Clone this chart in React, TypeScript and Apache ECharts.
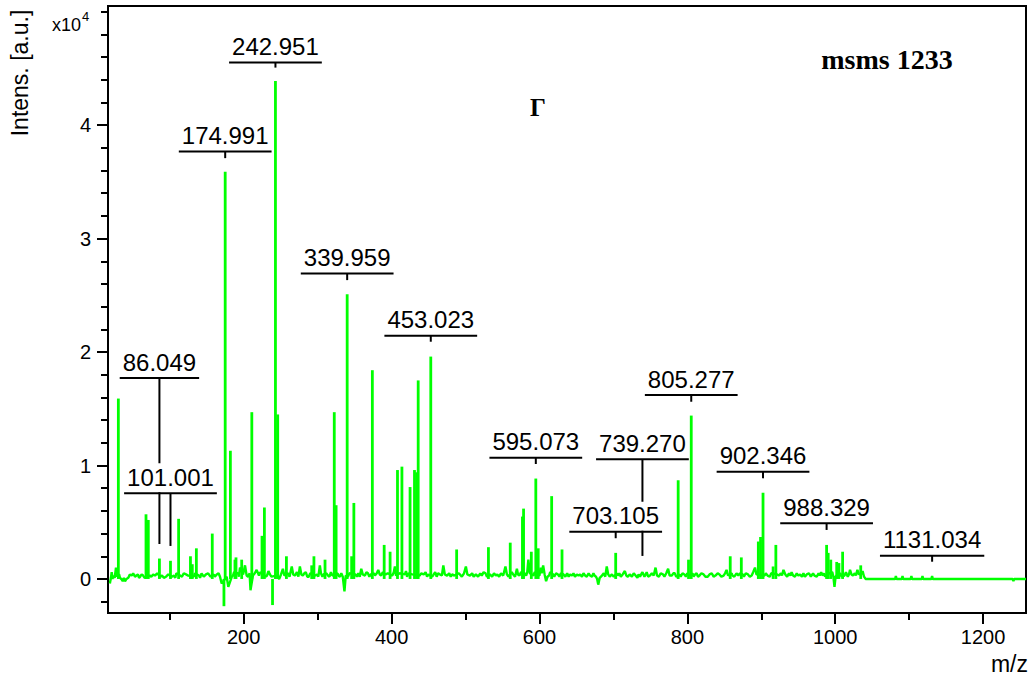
import React, { useEffect, useRef } from "react";
import * as echarts from "echarts";

// ---- axis ranges and ticks ----
const X_MIN = 16.5;
const X_MAX = 1258;
const Y_MIN = -0.3;
const Y_MAX = 5.05;
const xMajorTicks = [200, 400, 600, 800, 1000, 1200];
const xMinorTicks = [100, 300, 500, 700, 900, 1100];
const yMajorTicks = [0, 1, 2, 3, 4];
const yMinorTicks = [-0.2, 0.2, 0.4, 0.6, 0.8, 1.2, 1.4, 1.6, 1.8, 2.2, 2.4, 2.6, 2.8, 3.2, 3.4, 3.6, 3.8, 4.2, 4.4, 4.6, 4.8, 5.0];

// ---- peaks (m/z, intensity x10^4) ----
const peaks: [number, number][] = [
  [30.5, 1.59], [67.9, 0.57], [71.0, 0.52], [86.05, 0.18], [101.0, 0.16], [112.0, 0.53],
  [128.0, 0.2], [130.5, 0.13], [136.0, 0.27], [157.5, 0.4], [173.3, -0.24], [174.99, 3.59],
  [182.0, 1.13], [188.2, 0.17], [189.6, 0.19], [197.3, 0.17], [211.0, 1.47], [224.8, 0.38],
  [228.0, 0.63], [239.0, -0.23], [242.95, 4.39], [246.0, 1.45], [257.8, 0.2], [292.0, 0.12],
  [295.0, 0.2], [310.0, 0.17], [322.5, 1.47], [325.0, 0.65], [339.96, 2.51], [346.0, 0.2],
  [349.0, 0.67], [374.0, 1.84], [390.0, 0.3], [398.0, 0.24], [408.0, 0.96], [414.0, 0.99],
  [425.0, 0.81], [431.0, 0.96], [434.0, 0.94], [436.0, 1.75], [453.02, 1.96], [488.0, 0.26],
  [531.0, 0.28], [560.5, 0.32], [577.0, 0.55], [578.5, 0.62], [589.0, 0.24], [595.07, 0.885],
  [598.3, 0.27], [616.5, 0.73], [630.5, 0.26], [703.1, 0.23], [787.6, 0.87], [801.6, 0.17],
  [805.28, 1.44], [858.0, 0.2], [873.0, 0.19], [896.0, 0.33], [899.0, 0.37], [902.35, 0.76],
  [916.0, 0.11], [919.7, 0.3], [988.33, 0.3], [990.5, 0.23], [994.0, 0.17], [1002.0, 0.15],
  [1005.0, 0.14], [1010.0, 0.24], [1034.5, 0.12],
];

// ---- noisy baseline (m/z, intensity x10^4) ----
const baseline: [number, number][] = [
  [19, -0.04], [20.5, 0.01], [21.5, 0.06], [22.6, 0.0], [23.7, 0.03], [25.5, 0.01], [27.3, 0.1], [28.7, 0.02],
  [31.5, 0.04], [32.7, 0.01], [34.5, 0.0], [36.4, -0.02], [38, 0.01], [39.5, -0.02], [41.5, 0.0], [44, 0.01],
  [46, 0.04], [48.5, 0.03], [50.5, 0.05], [53, 0.02], [55, 0.03], [57, 0.04], [58.5, 0.01], [60, 0.02],
  [62, 0.04], [64, 0.03], [66, 0.01], [73, 0.03], [75, 0.02], [77.5, 0.04], [80, 0.03], [83, 0.05],
  [87.5, 0.02], [89.5, 0.03], [92, 0.01], [95, 0.02], [98, 0.04], [103, 0.02], [105.7, 0.03], [107.5, 0.01],
  [109, 0.05], [114, 0.03], [116.5, 0.02], [119, 0.05], [122, 0.04], [125, 0.03], [132.5, 0.02], [134, 0.05],
  [139.5, 0.03], [141, 0.01], [143, 0.05], [146, 0.02], [149, 0.04], [152, 0.05], [155, 0.02], [159.5, 0.04],
  [161, 0.02], [163.5, 0.04], [166, 0.05], [168, 0.02], [170.2, -0.04], [177, 0.02], [179.2, -0.07],
  [184, 0.02], [185.5, 0.03], [187, 0.06], [192.3, 0.05], [193.5, 0.02], [195, 0.1], [199.2, 0.04],
  [201.8, 0.12], [204, 0.03], [206, 0.02], [208, 0.05], [209.2, -0.1], [212.5, 0.03], [215, 0.05],
  [217.5, 0.08], [220.7, 0.03], [222.5, 0.06], [226.5, 0.04], [230, 0.02], [231.5, 0.03], [233.5, 0.07],
  [235.5, 0.04], [237.5, 0.02], [244.5, 0.03], [248, 0.0], [250.5, 0.04], [253, 0.09], [255, 0.03],
  [260, 0.05], [262, 0.02], [265, 0.11], [267, 0.04], [269.3, 0.03], [272, 0.06], [274, 0.02], [276, 0.11],
  [278, 0.04], [280, 0.03], [282, 0.05], [284, 0.06], [286, 0.02], [288, 0.02], [290, 0.05], [297, 0.03],
  [299, 0.04], [301, 0.02], [303, 0.12], [304.5, 0.05], [306.5, 0.02], [308, 0.04], [312, 0.05], [314, 0.03],
  [316, 0.02], [318, 0.06], [320, 0.03], [327, 0.05], [328, 0.03], [330, 0.02], [332, 0.05], [334, 0.02],
  [336.3, -0.11], [338, 0.03], [341, 0.02], [343, 0.05], [351, 0.04], [353, 0.02], [355, 0.05], [357, 0.02],
  [359, 0.09], [361, 0.04], [364, 0.03], [366, 0.06], [368, 0.05], [370, 0.02], [372, 0.04], [376, 0.05],
  [377.5, 0.03], [380, 0.05], [382, 0.08], [384, 0.04], [386, 0.03], [388, 0.06], [392, 0.04], [395, 0.05],
  [401, 0.03], [403, 0.06], [404.5, 0.11], [406, 0.03], [411, 0.05], [418, 0.04], [419.5, 0.07], [421, 0.02],
  [423, 0.05], [428, 0.04], [438, 0.03], [440, 0.05], [443.5, 0.04], [446, 0.06], [448, 0.02], [450, 0.04],
  [455, 0.02], [457, 0.04], [459, 0.06], [461, 0.02], [463, 0.05], [465.5, 0.04], [468, 0.03], [470, 0.12],
  [472, 0.04], [475, 0.03], [478, 0.05], [480, 0.02], [482, 0.04], [485, 0.03], [490.5, 0.05], [492.5, 0.04],
  [495, 0.02], [498, 0.05], [500.5, 0.11], [502.5, 0.04], [506, 0.03], [509, 0.05], [511, 0.02], [514, 0.04],
  [517, 0.02], [520, 0.05], [522, 0.03], [524.5, 0.06], [527, 0.05], [529, 0.02], [533, 0.04], [536, 0.02],
  [538.5, 0.05], [541, 0.03], [543, 0.04], [545.5, 0.02], [548, 0.05], [551, 0.03], [554, 0.11], [556, 0.04],
  [558, 0.02], [562.5, 0.06], [564.5, 0.04], [567, 0.02], [569.5, 0.09], [571, 0.04], [573, 0.03], [575, 0.06],
  [580, 0.05], [582, 0.03], [583.5, 0.06], [585, 0.17], [587, 0.05], [592, 0.03], [593.5, 0.06], [597, 0.04],
  [600, 0.03], [601.5, 0.1], [603, 0.05], [605, 0.12], [607, 0.04], [609, -0.02], [611, 0.02], [613, 0.03],
  [614.5, 0.06], [618.5, 0.04], [620, 0.02], [622.5, 0.05], [625, 0.04], [627, 0.02], [629, 0.05], [632.5, 0.04],
  [635, 0.02], [637.5, 0.05], [639.5, 0.02], [641.5, 0.04], [644, 0.03], [646, 0.05], [648, 0.02], [650.5, 0.04],
  [653, 0.03], [655, 0.04], [657.5, 0.02], [659.5, 0.05], [661.7, 0.03], [664, 0.02], [666.5, 0.05],
  [668.5, 0.03], [671, 0.02], [673, 0.05], [674.5, 0.03], [676.5, 0.02], [678, 0.0], [679.5, -0.05],
  [681.5, 0.01], [684.5, 0.03], [687, 0.05], [689, 0.02], [691, 0.11], [693, 0.04], [695, 0.02], [698, 0.04],
  [700.5, 0.02], [705, 0.05], [706, 0.03], [708, 0.05], [710, 0.02], [712.5, 0.04], [715.5, 0.07], [717.5, 0.03],
  [719.5, 0.02], [722, 0.04], [725, 0.02], [727.5, 0.05], [730, 0.03], [732.5, 0.01], [734, 0.04], [736, 0.02],
  [737.5, 0.04], [739.3, 0.06], [742, 0.02], [743.5, 0.04], [745, 0.06], [747, 0.02], [749.5, 0.03],
  [752, 0.05], [754.5, 0.03], [757, 0.1], [759, 0.03], [761.5, 0.02], [764, 0.05], [767, 0.04], [769, 0.02],
  [771.5, 0.05], [774, 0.09], [776, 0.03], [779, 0.03], [781, 0.05], [783, 0.05], [785, 0.02], [789.5, 0.04],
  [791, 0.02], [793.5, 0.05], [796, 0.04], [798, 0.02], [800, 0.05], [803.5, 0.03], [807, 0.05], [808.5, 0.02],
  [810.5, 0.04], [812.5, 0.05], [814.5, 0.02], [816.5, 0.03], [819, 0.05], [822, 0.04], [824.5, 0.02],
  [827.5, 0.02], [830, 0.04], [833, 0.05], [835.5, 0.02], [838, 0.03], [841, 0.05], [843.5, 0.04], [846, 0.02],
  [849, 0.03], [851, 0.05], [853, 0.08], [855, 0.03], [860, 0.05], [861, 0.03], [863.5, 0.02], [866.5, 0.05],
  [869, 0.03], [871, 0.05], [875, 0.04], [876.5, 0.02], [879, 0.05], [882, 0.04], [884.5, 0.02], [887, 0.03],
  [889, 0.06], [891.5, 0.1], [893.5, 0.04], [904.5, 0.03], [906, 0.05], [908.5, 0.03], [911.5, 0.02],
  [913.5, 0.05], [921.5, 0.04], [924, 0.03], [926.5, 0.05], [928, 0.03], [930, 0.08], [932.5, 0.04],
  [935, 0.02], [937.5, 0.05], [939.5, 0.03], [941, 0.06], [943, 0.03], [945.5, 0.02], [948, 0.05],
  [950, 0.03], [952.5, 0.04], [955, 0.02], [957, 0.05], [959, 0.02], [961.5, 0.04], [964.5, 0.05],
  [967, 0.02], [970, 0.05], [972, 0.03], [975, 0.02], [977.5, 0.05], [979, 0.03], [981, 0.06], [983, 0.03],
  [985, 0.05], [986.5, 0.02], [992, 0.05], [996, 0.06], [997.5, 0.02], [999, -0.07], [1000.5, 0.02],
  [1003.5, 0.04], [1007, 0.05], [1008.5, 0.02], [1012.5, 0.03], [1014.5, 0.06], [1017, 0.02], [1018.5, 0.04],
  [1020, 0.08], [1022, 0.04], [1024, 0.03], [1026.5, 0.05], [1028, 0.03], [1030, 0.08], [1032, 0.04],
  [1036, 0.05], [1037, 0.07], [1039, 0.02], [1041, 0.0], [1081, 0.0], [1082, 0.025], [1083, 0.0], [1090, 0.0],
  [1091, 0.025], [1092, 0.0], [1102, 0.0], [1103, 0.025], [1104, 0.0], [1117, 0.0], [1118, 0.025], [1119, 0.0],
  [1130, 0.0], [1131, 0.025], [1132, 0.0], [1240, 0.0], [1241, -0.02], [1242, 0.0], [1258, 0.0],
];

// ---- peak annotations ----
const annotLabels = ["86.049", "101.001", "174.991", "242.951", "339.959", "453.023", "595.073", "739.270", "703.105", "805.277", "902.346", "988.329", "1131.034"];
const annotMz = [86.049, 101.001, 174.991, 242.951, 339.959, 453.023, 595.073, 739.27, 703.105, 805.277, 902.346, 988.329, 1131.034];
const annotLevel = [1.771, 0.755, 3.767, 4.553, 2.693, 2.144, 1.069, 1.055, 0.417, 1.621, 0.945, 0.491, 0.205];
const annotLineEnd = [0.308, 0.291, 3.709, 4.507, 2.634, 2.091, 1.013, 0.203, 0.359, 1.562, 0.887, 0.432, 0.152];

const SANS = '"Liberation Sans", Arial, sans-serif';
const SERIF = '"Liberation Serif", "Times New Roman", serif';
const GREEN = "#00ff00";
const LABEL_FONT = `24px ${SANS}`;

let measureCtx: CanvasRenderingContext2D | null = null;
function textWidth(s: string): number {
  if (!measureCtx) measureCtx = document.createElement("canvas").getContext("2d");
  if (!measureCtx) return s.length * 12.5;
  measureCtx.font = LABEL_FONT;
  return measureCtx.measureText(s).width;
}

export default function App() {
  const ref = useRef<HTMLDivElement>(null);
  useEffect(() => {
    if (!ref.current) return;
    const chart = echarts.init(ref.current, null, { renderer: "svg" });
    const tickLine = { color: "#000", width: 2 };
    const plain = (v: number) => String(v);
    const option: any = {
      animation: false,
      backgroundColor: "#fff",
      grid: { left: 108, right: 4, top: 6, bottom: 66, show: true, borderColor: "#000", borderWidth: 2, backgroundColor: "transparent" },
      xAxis: [
        {
          type: "value", min: X_MIN, max: X_MAX, position: "bottom",
          axisLine: { show: true, onZero: false, lineStyle: tickLine },
          axisTick: { show: true, customValues: xMajorTicks, length: 11, lineStyle: tickLine },
          axisLabel: { show: true, customValues: xMajorTicks, formatter: plain, fontSize: 20, fontFamily: SANS, color: "#000", margin: 14 },
          splitLine: { show: false },
        },
        {
          type: "value", min: X_MIN, max: X_MAX, position: "bottom",
          axisLine: { show: false, onZero: false },
          axisTick: { show: true, customValues: xMinorTicks, length: 7, lineStyle: tickLine },
          axisLabel: { show: false },
          splitLine: { show: false },
        },
      ],
      yAxis: [
        {
          type: "value", min: Y_MIN, max: Y_MAX, position: "left",
          axisLine: { show: true, onZero: false, lineStyle: tickLine },
          axisTick: { show: true, customValues: yMajorTicks, length: 11, lineStyle: tickLine },
          axisLabel: { show: true, customValues: yMajorTicks, formatter: plain, fontSize: 20, fontFamily: SANS, color: "#000", margin: 17 },
          splitLine: { show: false },
        },
        {
          type: "value", min: Y_MIN, max: Y_MAX, position: "left",
          axisLine: { show: false, onZero: false },
          axisTick: { show: true, customValues: yMinorTicks, length: 7, lineStyle: tickLine },
          axisLabel: { show: false },
          splitLine: { show: false },
        },
      ],
      series: [
        {
          type: "line", data: baseline, xAxisIndex: 0, yAxisIndex: 0, symbol: "none", showSymbol: false,
          lineStyle: { color: GREEN, width: 2.4 }, itemStyle: { color: GREEN }, clip: true,
        },
        {
          type: "bar", data: peaks, xAxisIndex: 0, yAxisIndex: 0, barWidth: 2.8,
          itemStyle: { color: GREEN },
        },
        {
          type: "custom", xAxisIndex: 0, yAxisIndex: 0, z: 5,
          data: annotMz.map((m, i) => [m, annotLevel[i], annotLineEnd[i]]),
          encode: { x: 0, y: [1, 2] },
          renderItem: (params: any, api: any) => {
            const i = params.dataIndex;
            const label = annotLabels[i];
            const top = api.coord([api.value(0), api.value(1)]);
            const bot = api.coord([api.value(0), api.value(2)]);
            const w = textWidth(label);
            const half = w / 2 + 3;
            const cx = top[0];
            const uy = top[1];
            return {
              type: "group",
              children: [
                { type: "line", z2: 1, shape: { x1: cx, y1: uy, x2: cx, y2: bot[1] }, style: { stroke: "#000", lineWidth: 2 } },
                { type: "rect", z2: 5, shape: { x: cx - w / 2 - 2, y: uy - 30, width: w + 4, height: 29 }, style: { fill: "#fff" } },
                { type: "text", z2: 10, style: { text: label, x: cx, y: uy - 4, textAlign: "center", textVerticalAlign: "bottom", font: LABEL_FONT, fill: "#000" } },
                { type: "line", z2: 20, shape: { x1: cx - half, y1: uy, x2: cx + half, y2: uy }, style: { stroke: "#000", lineWidth: 2 } },
              ],
            };
          },
        },
      ],
      graphic: [
        { type: "text", x: 20, y: 73, rotation: Math.PI / 2, style: { text: "Intens. [a.u.]", font: `23px ${SANS}`, fill: "#000", textAlign: "center", textVerticalAlign: "middle" } },
        { type: "text", x: 52, y: 25, style: { text: "x10", font: `18px ${SANS}`, fill: "#000", textAlign: "left", textVerticalAlign: "middle" } },
        { type: "text", x: 82, y: 16, style: { text: "4", font: `13px ${SANS}`, fill: "#000", textAlign: "left", textVerticalAlign: "middle" } },
        { type: "text", x: 1028, y: 664, style: { text: "m/z", font: `23px ${SANS}`, fill: "#000", textAlign: "right", textVerticalAlign: "middle" } },
        { type: "text", x: 887, y: 59, style: { text: "msms 1233", font: `bold 28px ${SERIF}`, fill: "#000", textAlign: "center", textVerticalAlign: "middle" } },
        { type: "text", x: 538, y: 107, style: { text: "Γ", font: `bold 25px ${SERIF}`, fill: "#000", textAlign: "center", textVerticalAlign: "middle" } },
      ],
    };
    chart.setOption(option);
    return () => chart.dispose();
  }, []);
  return <div ref={ref} style={{ position: "fixed", left: 0, top: 0, width: 1030, height: 679, background: "#fff" }} />;
}
